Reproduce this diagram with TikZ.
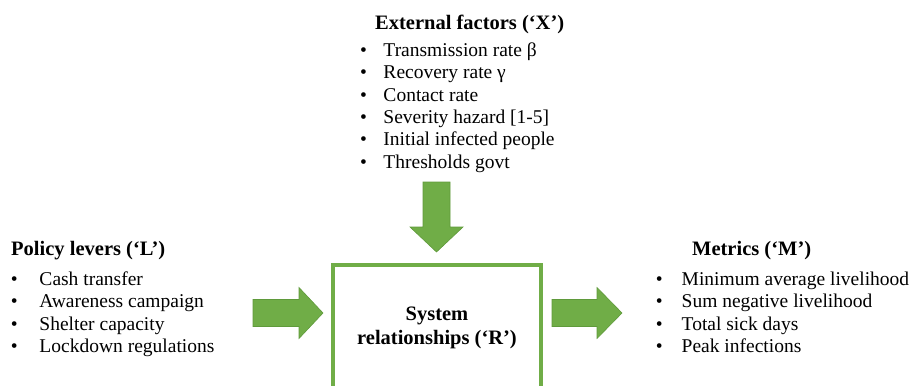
\documentclass[tikz,border=0pt]{standalone}
\usepackage{fontspec}
\setmainfont{Liberation Serif}
\definecolor{leaf}{HTML}{70AD47}
\definecolor{leafedge}{HTML}{5F9A3B}
% bullet hung to the left of the item text, #1 = gap between bullet and text
\newcommand\bitem[2]{\llap{\textbullet\hspace{#1}}#2}
\tikzset{
  listline/.style={anchor=base west, inner sep=0pt, font=\fontsize{19.5}{23}\selectfont},
  headline/.style={anchor=base west, inner sep=0pt, font=\fontsize{20.5}{24}\selectfont\bfseries},
  sysbox/.style={draw=leaf, line width=4pt, inner sep=0pt},
  blockarrow/.style={fill=leaf, draw=leafedge, line width=0.6pt, line join=miter}
}
\begin{document}
\begin{tikzpicture}[x=1pt,y=-1pt]
\useasboundingbox (0,0) rectangle (909,385);

% external factors
\node[headline] (xhead) at (375,29.3) {External factors (‘X’)};
\foreach \t [count=\i] in {{Transmission rate β},{Recovery rate γ},{Contact rate},
    {Severity hazard [1-5]},{Initial infected people},{Thresholds govt}}
  \node[listline] (x\i) at (383.3,56.7+22.3*\i-22.3) {\bitem{16.6pt}{\t}};

% policy levers
\node[headline] (lhead) at (11,255) {Policy levers (‘L’)};
\foreach \t [count=\i] in {{Cash transfer},{Awareness campaign},{Shelter capacity},
    {Lockdown regulations}}
  \node[listline] (l\i) at (39.3,285.7+22.2*\i-22.2) {\bitem{21.9pt}{\t}};

% metrics
\node[headline] (mhead) at (692,255) {Metrics (‘M’)};
\foreach \t [count=\i] in {{Minimum average livelihood},{Sum negative livelihood},
    {Total sick days},{Peak infections}}
  \node[listline] (m\i) at (681.5,285.7+22.2*\i-22.2) {\bitem{19.1pt}{\t}};

% system relationships box (runs past the lower edge)
\node[sysbox, minimum width=208pt, minimum height=130pt] (R) at (437,330) {};
\node[headline, anchor=base] (r1) at (437,320) {System};
\node[headline, anchor=base] (r2) at (437,344) {relationships (‘R’)};

% block arrows into and out of the box
\path[blockarrow] (423,182) -- (450,182) -- (450,227) -- (463,227) -- (436.5,252)
  -- (410,227) -- (423,227) -- cycle;
\path[blockarrow] (253,299.5) -- (299,299.5) -- (299,287.5) -- (323,313)
  -- (299,338.5) -- (299,326.5) -- (253,326.5) -- cycle;
\path[blockarrow] (552,299.5) -- (597,299.5) -- (597,287.5) -- (622,313)
  -- (597,338.5) -- (597,326.5) -- (552,326.5) -- cycle;
\end{tikzpicture}
\end{document}
